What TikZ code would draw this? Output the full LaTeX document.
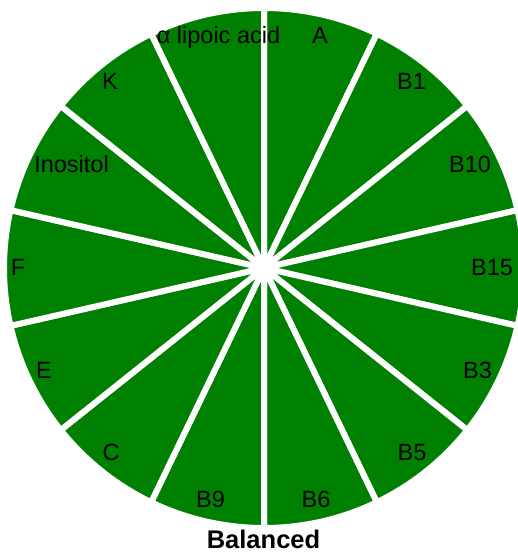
\documentclass[tikz,border=0pt]{standalone}
\usepackage{fontspec}
\setmainfont{Liberation Sans}
\usepackage{xcolor}
\usepackage{tikz}
\usetikzlibrary{positioning}
\definecolor{piegreen}{RGB}{0,128,0}

\begin{document}
\begin{tikzpicture}[
  x=1pt,y=1pt,
  slice/.style={fill=piegreen,draw=white,line width=6pt,line join=round},
  lbl/.style={anchor=base,inner sep=0pt,font=\fontsize{23.5}{28}\selectfont},
  ttl/.style={anchor=base,inner sep=0pt,font=\fontsize{25.5}{28}\selectfont\bfseries}
]
\useasboundingbox (0,0) rectangle (517,553);
\coordinate (c) at (264,285);

% fourteen equal slices, clockwise from the top
\foreach \i in {0,...,13}{
  \pgfmathsetmacro{\sa}{90-\i*360/14}
  \pgfmathsetmacro{\ea}{90-(\i+1)*360/14}
  \filldraw[slice] (c) -- ++(\sa:260pt) arc[start angle=\sa,end angle=\ea,radius=260pt] -- cycle;
}

\node[lbl] (la)   at (320,509.4) {A};
\node[lbl] (lb1)  at (411.5,463.9) {B1};
\node[lbl] (lb10) at (470,380) {B10};
\node[lbl] (lb15) at (492,277.7) {B15};
\node[lbl] (lb3)  at (477.5,174.4) {B3};
\node[lbl] (lb5)  at (412,92.4) {B5};
\node[lbl] (lb6)  at (316,45.9) {B6};
\node[lbl] (lb9)  at (210.5,45.9) {B9};
\node[lbl] (lc)   at (111,92.4) {C};
\node[lbl] (le)   at (44,174.4) {E};
\node[lbl] (lf)   at (18,277.7) {F};
\node[lbl] (lino) at (71.5,380) {Inositol};
\node[lbl] (lk)   at (110,463.9) {K};
\node[lbl] (lalp) at (218.5,509.4) {α lipoic acid};

\node[ttl] (title) at (263.5,5) {Balanced};
\end{tikzpicture}
\end{document}
